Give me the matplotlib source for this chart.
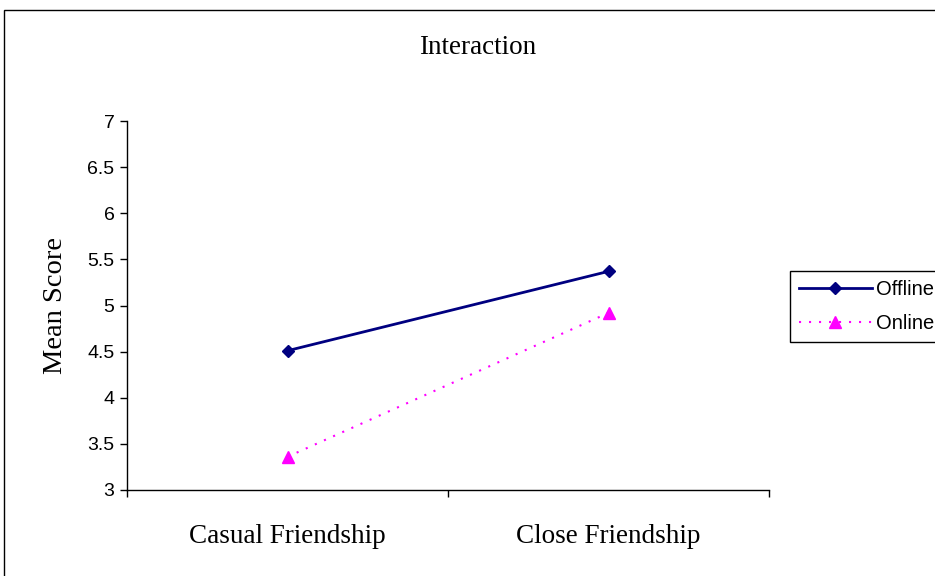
import numpy as np
import matplotlib
matplotlib.use("Agg")
import matplotlib.pyplot as plt
from matplotlib.patches import Rectangle

# mean scores by friendship type
conditions = ["Casual Friendship", "Close Friendship"]
offline = [4.51, 5.37]
online = [3.36, 4.92]
yticks = [3, 3.5, 4, 4.5, 5, 5.5, 6, 6.5, 7]
ytick_labels = ["3", "3.5", "4", "4.5", "5", "5.5", "6", "6.5", "7"]

serif = "Liberation Serif"
sans = "Liberation Sans"

fig = plt.figure(figsize=(9.35, 5.76), dpi=100)
ax = fig.add_axes([127/935, 1-490/576, (769-127)/935, (490-121)/576])

# outer chart border (runs off right and bottom edge)
fig.patches.append(Rectangle((4/935, -0.05), 1.1, 1-10/576+0.05,
                             transform=fig.transFigure, fill=False,
                             edgecolor="black", linewidth=1.0))

x = np.arange(len(conditions)) + 0.5
ax.plot(x, offline, color="#000080", linewidth=2, marker="D", markersize=6.5,
        label="Offline")
ax.plot(x, online, color="#FF00FF", linewidth=1.5, linestyle=(0, (1, 3.8)),
        marker="^", markersize=9, label="Online")

ax.set_xlim(0, len(conditions))
ax.set_ylim(3, 7)
ax.set_xticks(np.arange(len(conditions) + 1))
ax.set_xticklabels([])
ax.set_yticks(yticks)
ax.set_yticklabels(ytick_labels, fontfamily=sans, fontsize=14)
ax.tick_params(axis="both", direction="out", length=5, width=1, color="black")
ax.tick_params(axis="y", pad=4)

for xi, name in zip(x, conditions):
    ax.text(xi, -0.125, name, transform=ax.get_xaxis_transform(),
            ha="center", va="center", fontfamily=serif, fontsize=19.5)

for s in ["top", "right"]:
    ax.spines[s].set_visible(False)
for s in ["left", "bottom"]:
    ax.spines[s].set_linewidth(1)

fig.text(478/935, 1-48/576, "Interaction", ha="center", va="center",
         fontfamily=serif, fontsize=19.5)
fig.text(55/935, 1-306/576, "Mean Score", ha="center", va="center",
         rotation=90, fontfamily=serif, fontsize=20.5)

leg = fig.legend(loc="upper left", bbox_to_anchor=(790/935, 1-271/576),
                 prop={"family": sans, "size": 14.5}, handlelength=3.6,
                 fancybox=False, framealpha=1, edgecolor="black",
                 borderpad=0.45, labelspacing=0.75, handletextpad=0.2,
                 borderaxespad=0)
leg.get_frame().set_linewidth(1)

fig.savefig("out.png", dpi=100)
